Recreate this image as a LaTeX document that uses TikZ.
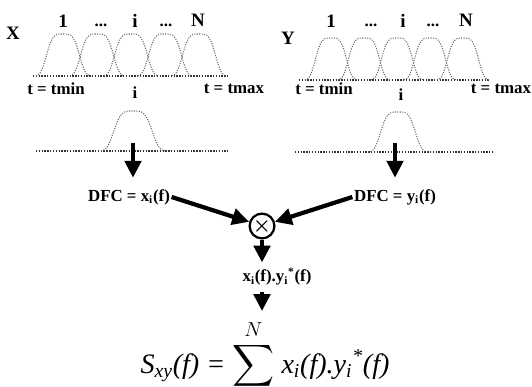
\documentclass[tikz,border=0pt]{standalone}
\usepackage{amsmath}
\usepackage{fontspec}
\setmainfont{Liberation Serif}
\usetikzlibrary{arrows.meta}
\tikzstyle{lbl} = [
    font=\fontsize{12}{14}\selectfont\bfseries,
    inner sep=1pt
]
\tikzstyle{toplbl} = [
    font=\fontsize{13.5}{15}\selectfont\bfseries,
    inner sep=1pt
]
\tikzstyle{hump} = [
    densely dotted,
    line width=0.75pt,
    black!60
]
\tikzstyle{axis} = [
    densely dotted,
    line width=1pt,
    black!80
]
\tikzstyle{arrow} = [
    line width=3pt,
    -{Triangle[length=12pt,width=11.5pt]}
]
\tikzstyle{multbox} = [
    circle,
    draw,
    line width=1.6pt,
    minimum size=0.62cm,
    inner sep=0pt,
    font=\Large\boldmath
]
\begin{document}
\begin{tikzpicture}[x=0.025cm, y=-0.025cm]
\useasboundingbox (0,0) rectangle (532,387);

% X signal and its windows
\node (xlab) [toplbl] at (13,33) {X};
\node (x1) [toplbl] at (63,21) {1};
\node (xdots1) [lbl] at (101,25) {...};
\node (xi) [toplbl] at (135,21) {i};
\node (xdots2) [lbl] at (166,25) {...};
\node (xN) [toplbl] at (198,20) {N};
\draw [axis] (33,76) -- (228,76);
\foreach \c in {63,97,131,165,199}
  \draw [hump] plot[domain=-27:27, samples=45, smooth]
    ({\c+\x},{76-42*exp(-(\x/18)^4)});
\node (xtmin) [lbl] at (56,89) {t = tmin};
\node (xtmax) [lbl] at (234,89) {t = tmax};
\node (xsel) [lbl] at (135,93) {i};
\draw [axis] (36,151) -- (228,151);
\draw [hump] plot[domain=-32:32, samples=50, smooth]
  ({133+\x},{151-40*exp(-(\x/21)^4)});
\coordinate (xwin) at (133,143);

% Y signal and its windows
\node (ylab) [toplbl] at (288,38) {Y};
\node (y1) [toplbl] at (331,21) {1};
\node (ydots1) [lbl] at (371,25) {...};
\node (yi) [toplbl] at (403,21) {i};
\node (ydots2) [lbl] at (433,25) {...};
\node (yN) [toplbl] at (466,20) {N};
\draw [axis] (299,80) -- (489,80);
\foreach \c in {331,364,397,430,463}
  \draw [hump] plot[domain=-26:26, samples=45, smooth]
    ({\c+\x},{80-42*exp(-(\x/17)^4)});
\node (ytmin) [lbl] at (324,89) {t = tmin};
\node (ytmax) [lbl] at (501,89) {t = tmax};
\node (ysel) [lbl] at (401,95) {i};
\draw [axis] (295,152) -- (492,152);
\draw [hump] plot[domain=-30:30, samples=50, smooth]
  ({398+\x},{152-40*exp(-(\x/19)^4)});
\coordinate (ywin) at (395,143);

% spectra and product
\node (xdfc) [lbl] at (129,197) {DFC = x\textsubscript{i}(f)};
\node (ydfc) [lbl] at (395,197) {DFC = y\textsubscript{i}(f)};
\node (mult) [multbox] at (262,226) {$\times$};
\node (prod) [lbl] at (277,277) {x\textsubscript{i}(f).y\textsubscript{i}\textsuperscript{*}(f)};
\node (sxy) [anchor=base, font=\fontsize{20}{24}\selectfont, inner sep=0pt] at (265,373)
  {\itshape S\textsubscript{xy}(f) = $\displaystyle\sum_{i=1}^{N}$ x\textsubscript{i}(f).y\textsubscript{i}\textsuperscript{*}(f)};

\draw [arrow, shorten >=7pt] (xwin) -- (xwin |- xdfc.north);
\draw [arrow, shorten >=7pt] (ywin) -- (ywin |- ydfc.north);
\draw [arrow] (xdfc.east) -- (mult);
\draw [arrow] (ydfc.west) -- (mult);
\draw [arrow, shorten >=3pt] (mult) -- (mult |- prod.north);
\draw [arrow, shorten <=3pt, shorten >=6pt] (mult |- prod.south) -- (mult |- sxy.north);

\end{tikzpicture}
\end{document}
